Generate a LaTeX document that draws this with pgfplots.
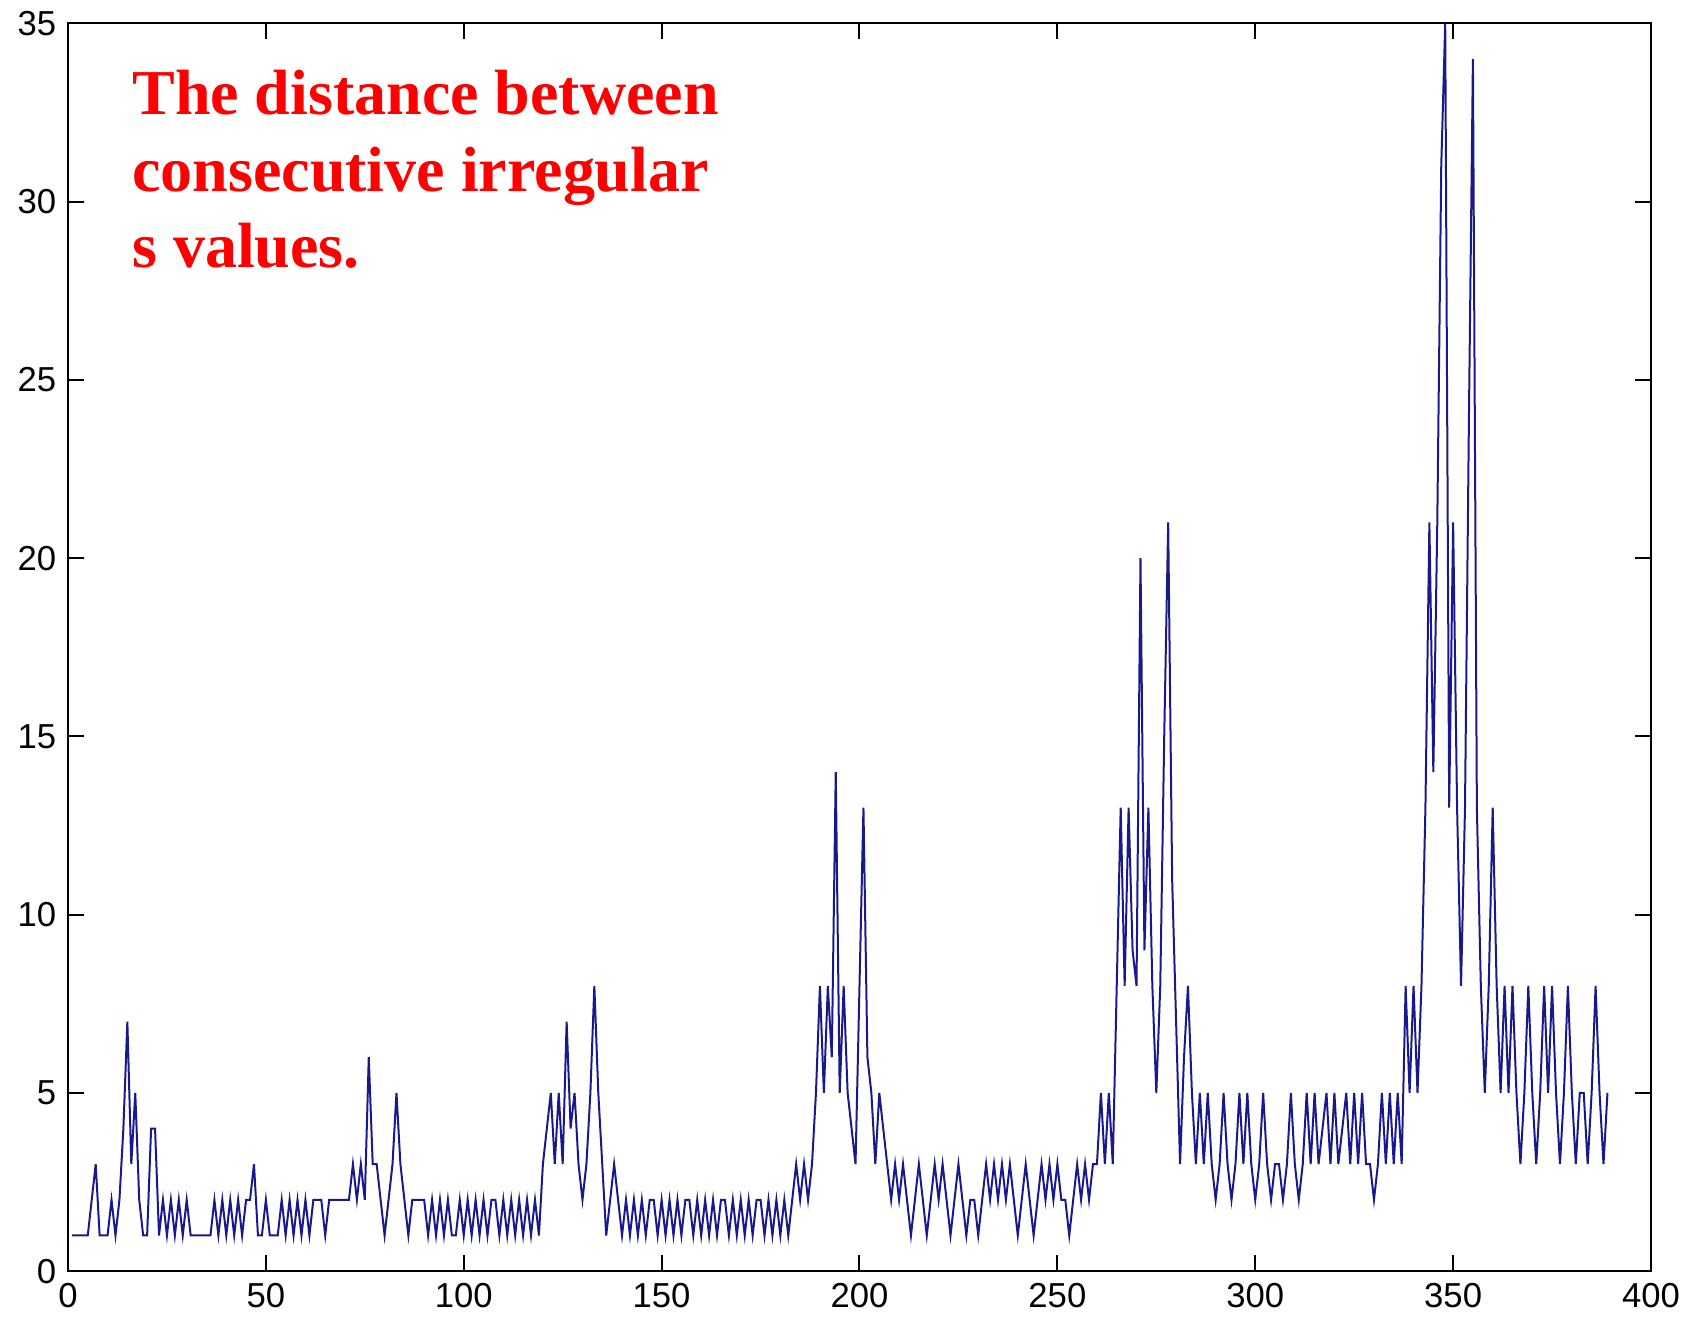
\documentclass[border=0pt]{standalone}
\usepackage{pgfplots}
\pgfplotsset{compat=1.18}
\usepackage{fontspec}
\setmainfont{Liberation Sans}
\newfontfamily\timesbf{Liberation Serif}
\definecolor{mblue}{RGB}{25,25,140}

\begin{document}
\begin{tikzpicture}
\begin{axis}[
    scale only axis,
    width=475pt, height=374.4pt,
    xmin=0, xmax=400, ymin=0, ymax=35,
    xtick={0,50,...,400},
    ytick={0,5,...,35},
    tick align=inside,
    major tick length=4.8pt,
    axis line style={line width=0.6pt},
    every tick/.style={black, line width=0.6pt},
    tick label style={font=\fontsize{10.4}{12}\selectfont},
    /pgf/number format/assume math mode=true,
    clip=false,
  ]
% distance between consecutive irregular s values
\addplot[mblue, line width=0.6pt] coordinates {
(1,1) (2,1) (3,1) (4,1) (5,1) (6,2) (7,3) (8,1) (9,1) (10,1)
(11,2) (12,1) (13,2) (14,4) (15,7) (16,3) (17,5) (18,2) (19,1) (20,1)
(21,4) (22,4) (23,1) (24,2) (25,1) (26,2) (27,1) (28,2) (29,1) (30,2)
(31,1) (32,1) (33,1) (34,1) (35,1) (36,1) (37,2) (38,1) (39,2) (40,1)
(41,2) (42,1) (43,2) (44,1) (45,2) (46,2) (47,3) (48,1) (49,1) (50,2)
(51,1) (52,1) (53,1) (54,2) (55,1) (56,2) (57,1) (58,2) (59,1) (60,2)
(61,1) (62,2) (63,2) (64,2) (65,1) (66,2) (67,2) (68,2) (69,2) (70,2)
(71,2) (72,3) (73,2) (74,3) (75,2) (76,6) (77,3) (78,3) (79,2) (80,1)
(81,2) (82,3) (83,5) (84,3) (85,2) (86,1) (87,2) (88,2) (89,2) (90,2)
(91,1) (92,2) (93,1) (94,2) (95,1) (96,2) (97,1) (98,1) (99,2) (100,1)
(101,2) (102,1) (103,2) (104,1) (105,2) (106,1) (107,2) (108,2) (109,1) (110,2)
(111,1) (112,2) (113,1) (114,2) (115,1) (116,2) (117,1) (118,2) (119,1) (120,3)
(121,4) (122,5) (123,3) (124,5) (125,3) (126,7) (127,4) (128,5) (129,3) (130,2)
(131,3) (132,5) (133,8) (134,5) (135,3) (136,1) (137,2) (138,3) (139,2) (140,1)
(141,2) (142,1) (143,2) (144,1) (145,2) (146,1) (147,2) (148,2) (149,1) (150,2)
(151,1) (152,2) (153,1) (154,2) (155,1) (156,2) (157,2) (158,1) (159,2) (160,1)
(161,2) (162,1) (163,2) (164,1) (165,2) (166,2) (167,1) (168,2) (169,1) (170,2)
(171,1) (172,2) (173,1) (174,2) (175,2) (176,1) (177,2) (178,1) (179,2) (180,1)
(181,2) (182,1) (183,2) (184,3) (185,2) (186,3) (187,2) (188,3) (189,5) (190,8)
(191,5) (192,8) (193,6) (194,14) (195,5) (196,8) (197,5) (198,4) (199,3) (200,8)
(201,13) (202,6) (203,5) (204,3) (205,5) (206,4) (207,3) (208,2) (209,3) (210,2)
(211,3) (212,2) (213,1) (214,2) (215,3) (216,2) (217,1) (218,2) (219,3) (220,2)
(221,3) (222,2) (223,1) (224,2) (225,3) (226,2) (227,1) (228,2) (229,2) (230,1)
(231,2) (232,3) (233,2) (234,3) (235,2) (236,3) (237,2) (238,3) (239,2) (240,1)
(241,2) (242,3) (243,2) (244,1) (245,2) (246,3) (247,2) (248,3) (249,2) (250,3)
(251,2) (252,2) (253,1) (254,2) (255,3) (256,2) (257,3) (258,2) (259,3) (260,3)
(261,5) (262,3) (263,5) (264,3) (265,8) (266,13) (267,8) (268,13) (269,9) (270,8)
(271,20) (272,9) (273,13) (274,8) (275,5) (276,8) (277,15) (278,21) (279,11) (280,7)
(281,3) (282,6) (283,8) (284,5) (285,3) (286,5) (287,3) (288,5) (289,3) (290,2)
(291,3) (292,5) (293,3) (294,2) (295,3) (296,5) (297,3) (298,5) (299,3) (300,2)
(301,3) (302,5) (303,3) (304,2) (305,3) (306,3) (307,2) (308,3) (309,5) (310,3)
(311,2) (312,3) (313,5) (314,3) (315,5) (316,3) (317,4) (318,5) (319,3) (320,5)
(321,3) (322,4) (323,5) (324,3) (325,5) (326,3) (327,5) (328,3) (329,3) (330,2)
(331,3) (332,5) (333,3) (334,5) (335,3) (336,5) (337,3) (338,8) (339,5) (340,8)
(341,5) (342,8) (343,13) (344,21) (345,14) (346,21) (347,31) (348,35) (349,13) (350,21)
(351,13) (352,8) (353,13) (354,24) (355,34) (356,13) (357,8) (358,5) (359,8) (360,13)
(361,8) (362,5) (363,8) (364,5) (365,8) (366,5) (367,3) (368,5) (369,8) (370,5)
(371,3) (372,5) (373,8) (374,5) (375,8) (376,5) (377,3) (378,5) (379,8) (380,5)
(381,3) (382,5) (383,5) (384,3) (385,5) (386,8) (387,5) (388,3) (389,5)
};
\node[anchor=base west, inner sep=0, red, font=\timesbf\bfseries\fontsize{19.2}{23}\selectfont]
  at (axis cs:16.1,32.44) {The distance between};
\node[anchor=base west, inner sep=0, red, font=\timesbf\bfseries\fontsize{19.2}{23}\selectfont]
  at (axis cs:16.1,30.29) {consecutive irregular};
\node[anchor=base west, inner sep=0, red, font=\timesbf\bfseries\fontsize{19.2}{23}\selectfont]
  at (axis cs:16.1,28.14) {s values.};
\end{axis}
\path (current axis.south west) ++(-20.4pt,-15.6pt) coordinate (bbsw);
\path (current axis.north east) ++(12pt,6.6pt) coordinate (bbne);
\path[use as bounding box] (bbsw) rectangle (bbne);
\end{tikzpicture}
\end{document}
